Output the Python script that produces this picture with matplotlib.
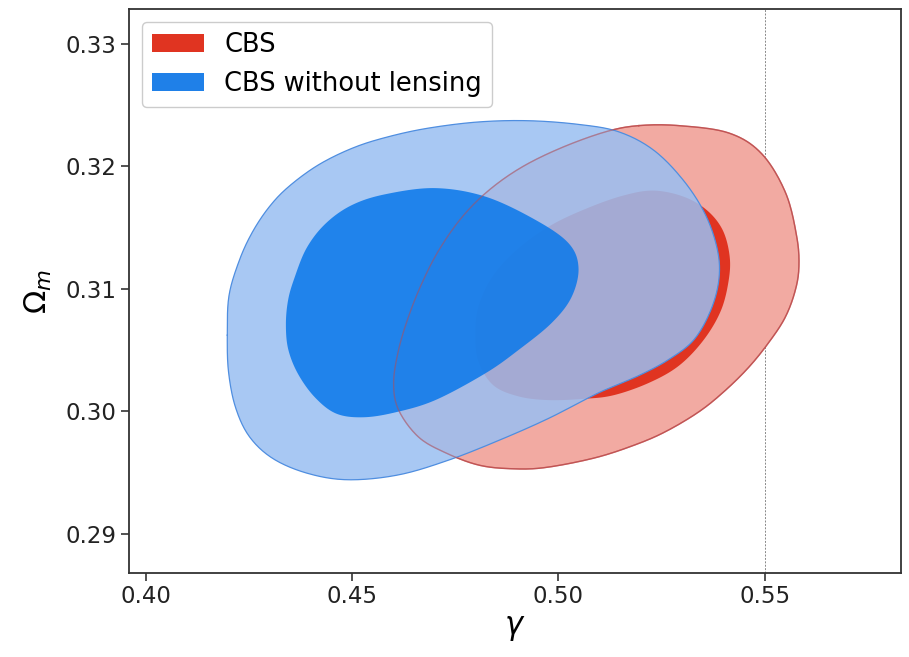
import numpy as np
import matplotlib
matplotlib.use("Agg")
import matplotlib.pyplot as plt
from matplotlib.patches import Patch

# contour outlines (gamma, Omega_m), 68% and 95% regions
cbs_95_gamma = [0.5195, 0.5292, 0.5413, 0.5493, 0.5551, 0.5578, 0.5583, 0.5573, 0.5549, 0.5510,
                0.5462, 0.5405, 0.5343, 0.5264, 0.5190, 0.5090, 0.4969, 0.4887, 0.4807, 0.4727,
                0.4661, 0.4613, 0.4601, 0.4613, 0.4637, 0.4669, 0.4710, 0.4766, 0.4831, 0.4911,
                0.5008, 0.5115]
cbs_95_om = [0.3233, 0.3233, 0.3227, 0.3210, 0.3178, 0.3142, 0.3117, 0.3097, 0.3076, 0.3056,
             0.3036, 0.3017, 0.3000, 0.2984, 0.2973, 0.2962, 0.2954, 0.2953, 0.2956, 0.2966,
             0.2979, 0.3001, 0.3023, 0.3050, 0.3077, 0.3104, 0.3131, 0.3158, 0.3180, 0.3199,
             0.3215, 0.3228]

cbs_68_gamma = [0.4799, 0.4807, 0.4843, 0.4904, 0.4984, 0.5073, 0.5158, 0.5231, 0.5304, 0.5360,
                0.5398, 0.5415, 0.5413, 0.5394, 0.5352, 0.5292, 0.5219, 0.5134, 0.5061, 0.4976,
                0.4904, 0.4843, 0.4807]
cbs_68_om = [0.3062, 0.3086, 0.3111, 0.3133, 0.3152, 0.3166, 0.3176, 0.3180, 0.3175, 0.3164,
             0.3148, 0.3127, 0.3107, 0.3082, 0.3058, 0.3037, 0.3023, 0.3013, 0.3010, 0.3009,
             0.3012, 0.3021, 0.3040]

nolens_95_gamma = [0.4198, 0.4202, 0.4226, 0.4257, 0.4298, 0.4346, 0.4419, 0.4504, 0.4589, 0.4686,
                   0.4807, 0.4928, 0.5049, 0.5146, 0.5231, 0.5304, 0.5357, 0.5386, 0.5389, 0.5369,
                   0.5328, 0.5267, 0.5195, 0.5098, 0.4976, 0.4855, 0.4734, 0.4613, 0.4492, 0.4395,
                   0.4310, 0.4252, 0.4218, 0.4201]
nolens_95_om = [0.3062, 0.3094, 0.3122, 0.3145, 0.3166, 0.3183, 0.3201, 0.3215, 0.3224, 0.3231,
                0.3236, 0.3237, 0.3234, 0.3228, 0.3213, 0.3188, 0.3160, 0.3131, 0.3107, 0.3082,
                0.3058, 0.3042, 0.3029, 0.3015, 0.2994, 0.2976, 0.2960, 0.2948, 0.2944, 0.2949,
                0.2961, 0.2979, 0.3003, 0.3032]

nolens_68_gamma = [0.4360, 0.4390, 0.4436, 0.4499, 0.4581, 0.4702, 0.4824, 0.4945, 0.5025, 0.5049,
                   0.5032, 0.4984, 0.4904, 0.4824, 0.4702, 0.4605, 0.4527, 0.4462, 0.4411, 0.4370,
                   0.4346, 0.4340, 0.4345]
nolens_68_om = [0.3108, 0.3133, 0.3153, 0.3168, 0.3177, 0.3182, 0.3175, 0.3156, 0.3137, 0.3117,
                0.3093, 0.3072, 0.3050, 0.3031, 0.3009, 0.2999, 0.2995, 0.2998, 0.3011, 0.3030,
                0.3050, 0.3070, 0.3090]

gamma_ref = 0.55

x_ticks = [0.40, 0.45, 0.50, 0.55]
y_ticks = [0.29, 0.30, 0.31, 0.32, 0.33]

RED_DARK = "#e03421"
RED_LIGHT = "#f2aaa2"
RED_EDGE = "#d45a50"
BLUE_DARK = "#0a78ea"
BLUE_LIGHT = "#9abff2"
BLUE_EDGE = "#4f8ee0"


def smooth_closed(xs, ys, n=20):
    # closed Catmull-Rom curve through the outline points
    p = np.column_stack([xs, ys])
    m = len(p)
    out = []
    for i in range(m):
        p0, p1, p2, p3 = p[i - 1], p[i], p[(i + 1) % m], p[(i + 2) % m]
        t = np.linspace(0, 1, n, endpoint=False)[:, None]
        out.append(0.5 * (2 * p1 + (-p0 + p2) * t
                          + (2 * p0 - 5 * p1 + 4 * p2 - p3) * t ** 2
                          + (-p0 + 3 * p1 - 3 * p2 + p3) * t ** 3))
    out = np.vstack(out)
    return out[:, 0], out[:, 1]


def closed(x, y):
    return np.append(x, x[0]), np.append(y, y[0])


fig = plt.figure(figsize=(9.09, 6.57), dpi=100)
ax = fig.add_axes([0.142, 0.128, 0.849, 0.858])

# CBS
gx, gy = smooth_closed(cbs_95_gamma, cbs_95_om)
ax.fill(gx, gy, color=RED_LIGHT, lw=0, zorder=1)
ax.plot(*closed(gx, gy), color=RED_EDGE, lw=1.0, zorder=1.5)
gx, gy = smooth_closed(cbs_68_gamma, cbs_68_om)
ax.fill(gx, gy, color=RED_DARK, lw=0, zorder=2)

# CBS without lensing, drawn over
gx, gy = smooth_closed(nolens_95_gamma, nolens_95_om)
ax.fill(gx, gy, color=BLUE_LIGHT, alpha=0.86, lw=0, zorder=3)
ax.plot(*closed(gx, gy), color=BLUE_EDGE, lw=0.9, zorder=3.5)
gx, gy = smooth_closed(nolens_68_gamma, nolens_68_om)
ax.fill(gx, gy, color=BLUE_DARK, alpha=0.86, lw=0, zorder=4)

# outer CBS edge stays visible on top
gx, gy = smooth_closed(cbs_95_gamma, cbs_95_om)
ax.plot(*closed(gx, gy), color="#b0505a", lw=1.0, alpha=0.55, zorder=5)

ax.axvline(gamma_ref, color="#888888", ls="--", lw=0.7, dashes=(2, 1.5), zorder=0.5)

ax.set_xlim(0.396, 0.583)
ax.set_ylim(0.2868, 0.3328)
ax.set_xticks(x_ticks)
ax.set_xticklabels([f"{v:.2f}" for v in x_ticks])
ax.set_yticks(y_ticks)
ax.set_yticklabels([f"{v:.2f}" for v in y_ticks])
ax.tick_params(labelsize=16.5, length=5.5, width=1.1, colors="#222222")
for s in ax.spines.values():
    s.set_linewidth(1.3)
    s.set_color("#333333")

ax.set_xlabel(r"$\gamma$", fontsize=22)
ax.set_ylabel(r"$\Omega_m$", fontsize=22, labelpad=8)

handles = [Patch(facecolor=RED_DARK, edgecolor="none", label="CBS"),
           Patch(facecolor="#1f80e8", edgecolor="none", label="CBS without lensing")]
ax.legend(handles=handles, loc="upper left", fontsize=18.5, framealpha=1,
          borderaxespad=0.5, handlelength=2.0)

fig.savefig("out.png", dpi=100)
